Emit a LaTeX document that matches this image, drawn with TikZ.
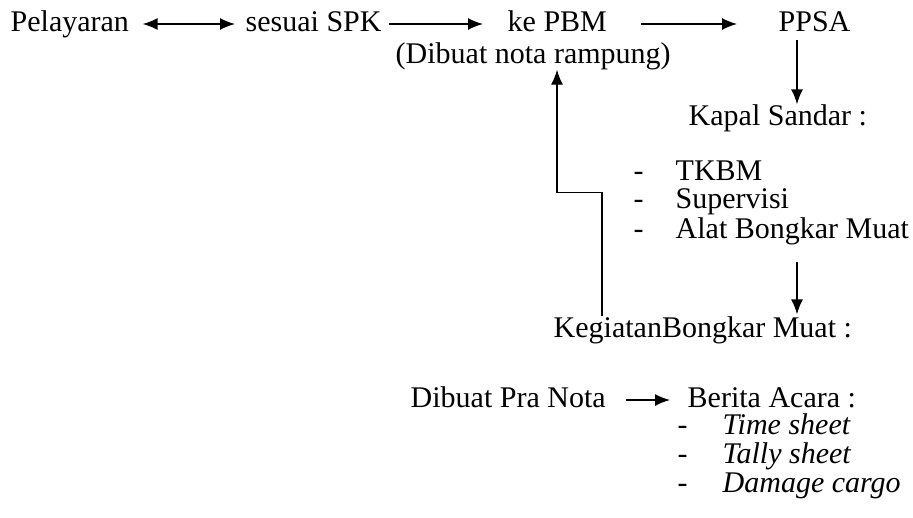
\documentclass[tikz,border=0pt]{standalone}
\usepackage{fontspec}
\setmainfont{Liberation Serif}
\usetikzlibrary{arrows.meta}
\begin{document}
\begin{tikzpicture}[x=1pt,y=-1pt,line width=1.4pt,
              >={Latex[length=15pt,width=12pt]},
              font=\fontsize{30}{36}\selectfont,
              lbl/.style={anchor=base west,inner sep=0pt,text height=20pt,text depth=6pt}]
            \useasboundingbox (0,0) rectangle (913,517);

            \node[lbl] (pel) at (10,31) {Pelayaran};
            \node[lbl] (spk) at (245,31) {sesuai SPK};
            \node[lbl] (pbm) at (507,31) {ke PBM};
            \node[lbl] (ppsa) at (778,31) {PPSA};
            \node[lbl] (nota) at (395,63) {(Dibuat nota rampung)};
            \node[lbl] (kapal) at (688,125) {Kapal Sandar :};

            \node[lbl] (d1) at (633,180) {-};
            \node[lbl] (tkbm) at (675,180) {TKBM};
            \node[lbl] (d2) at (633,208) {-};
            \node[lbl] (sup) at (675,208) {Supervisi};
            \node[lbl] (d3) at (633,238) {-};
            \node[lbl] (alat) at (675,238) {Alat Bongkar Muat};

            \node[lbl] (keg) at (553,337) {KegiatanBongkar Muat :};
            \node[lbl] (pranota) at (410,407) {Dibuat Pra Nota};
            \node[lbl] (berita) at (687,407) {Berita Acara :};

            \node[lbl] (d4) at (677,434) {-};
            \node[lbl] (time) at (722,434) {\itshape Time sheet};
            \node[lbl] (d5) at (677,463) {-};
            \node[lbl] (tally) at (722,463) {\itshape Tally sheet};
            \node[lbl] (d6) at (677,492) {-};
            \node[lbl] (damage) at (722,492) {\itshape Damage cargo};

            \draw[<->,shorten <=13pt,shorten >=10pt] (pel.east) -- (spk.west);
            \draw[->,shorten <=7pt,shorten >=24pt] (spk.east) -- (pbm.west);
            \draw[->,shorten <=33pt,shorten >=41pt] (pbm.east) -- (ppsa.west);
            \draw[->,shorten <=2pt] ([xshift=19pt]ppsa.south west) -- ([xshift=19pt]ppsa.south west |- kapal.north);
            \draw[->,shorten <=17pt,shorten >=2pt] ([xshift=122pt]alat.south west) -- ([xshift=122pt]alat.south west |- keg.north);
            \draw[->] ([xshift=49pt]keg.north west) -- ++(0,-124) -| ([xshift=162pt]nota.south west);
            \draw[->,shorten <=20pt,shorten >=17pt] (pranota.east) -- (berita.west);
          \end{tikzpicture}
\end{document}
